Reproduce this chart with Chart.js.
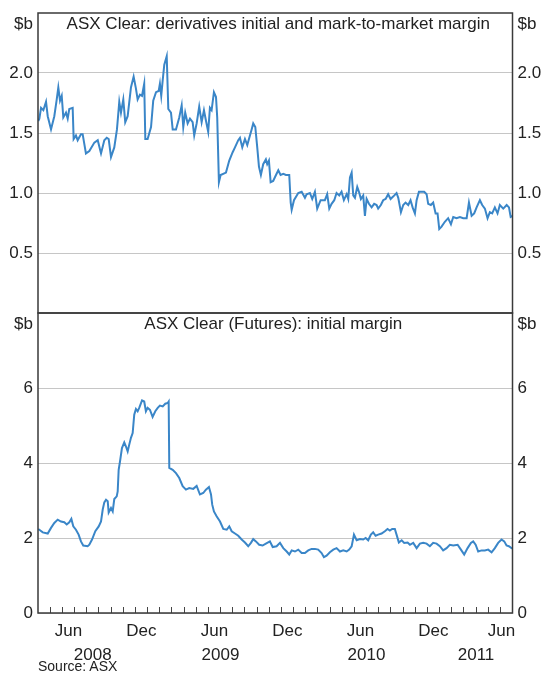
<!DOCTYPE html>
<html>
<head>
<meta charset="utf-8">
<script src="https://cdn.jsdelivr.net/npm/chart.js@4.4.0/dist/chart.umd.min.js"></script>
<style>
body{margin:0;background:#fff;width:544px;height:674px;overflow:hidden;position:relative;font-family:"Liberation Sans",Arial,sans-serif}
canvas{position:absolute;left:0}
#top{top:0}
#bottom{top:300px}
#source{position:absolute;left:38px;top:658px;font-size:14px;color:#222}
</style>
</head>
<body>
<canvas id="top" width="544" height="314"></canvas>
<canvas id="bottom" width="544" height="374"></canvas>
<div id="source">Source: ASX</div>
<script>
// x values are months since 1 Jan 2008 (3 = start of April 2008)
const xStart = 3, xEnd = 42;

const derivMonths = [3.02,3.11,3.25,3.44,3.66,3.80,4.07,4.34,4.54,4.67,4.81,4.95,5.08,5.30,5.44,5.57,5.85,5.93,6.12,6.26,
6.53,6.67,6.94,7.22,7.63,7.91,8.18,8.45,8.65,8.81,9.00,9.27,9.49,9.68,9.82,10.01,10.17,10.37,10.64,10.86,
11.05,11.19,11.38,11.55,11.73,11.82,12.01,12.29,12.47,12.70,12.92,13.02,13.13,13.25,13.38,13.58,13.71,13.93,14.07,14.34,
14.61,14.81,14.94,15.10,15.30,15.49,15.71,15.84,16.04,16.25,16.45,16.64,16.81,16.99,17.13,17.27,17.46,17.63,17.73,17.87,
18.01,18.45,18.72,19.00,19.19,19.46,19.60,19.79,20.01,20.20,20.42,20.56,20.69,20.86,21.02,21.16,21.32,21.51,21.73,21.84,
21.98,22.12,22.33,22.56,22.75,22.94,23.16,23.38,23.65,23.77,23.85,24.04,24.39,24.67,24.94,25.08,25.35,25.54,25.76,25.95,
26.23,26.58,26.77,26.94,27.13,27.35,27.54,27.76,27.95,28.14,28.37,28.50,28.64,28.78,28.91,29.05,29.24,29.38,29.54,29.73,
29.87,30.01,30.20,30.42,30.63,30.83,30.96,31.18,31.37,31.57,31.78,31.98,32.19,32.47,32.61,32.83,33.02,33.21,33.43,33.62,
33.79,33.98,34.12,34.31,34.53,34.74,34.94,35.07,35.29,35.48,35.68,35.84,35.98,36.17,36.44,36.71,36.94,37.13,37.40,37.68,
37.95,38.23,38.42,38.64,38.85,39.05,39.32,39.51,39.73,39.95,40.14,40.33,40.55,40.77,40.96,41.24,41.52,41.71,41.85,42.01];
const derivValues = [1.60,1.62,1.71,1.69,1.76,1.64,1.53,1.64,1.78,1.88,1.77,1.81,1.63,1.67,1.62,1.70,1.71,1.45,1.48,1.44,
1.49,1.49,1.33,1.35,1.42,1.44,1.33,1.44,1.46,1.45,1.30,1.38,1.53,1.76,1.67,1.78,1.59,1.64,1.88,1.97,
1.87,1.78,1.82,1.81,1.91,1.45,1.45,1.55,1.77,1.84,1.85,1.91,1.81,1.94,2.07,2.14,1.70,1.67,1.53,1.53,
1.63,1.73,1.55,1.67,1.58,1.62,1.59,1.48,1.58,1.72,1.59,1.69,1.60,1.51,1.71,1.69,1.84,1.80,1.63,1.09,
1.15,1.17,1.27,1.34,1.38,1.44,1.46,1.38,1.45,1.40,1.48,1.53,1.58,1.55,1.38,1.22,1.15,1.24,1.28,1.24,
1.27,1.09,1.10,1.15,1.19,1.15,1.16,1.15,1.15,0.92,0.86,0.94,1.00,1.01,0.96,0.99,1.00,0.95,1.01,0.87,
0.94,0.94,0.99,0.87,0.91,0.94,1.00,0.98,1.01,0.94,0.99,0.95,1.13,1.17,0.98,0.96,1.05,1.01,0.95,0.98,
0.81,0.95,0.91,0.88,0.91,0.90,0.87,0.90,0.94,0.95,0.99,0.95,0.97,1.00,0.96,0.84,0.90,0.92,0.90,0.94,
0.88,0.83,0.94,1.01,1.01,1.01,0.99,0.91,0.90,0.92,0.83,0.83,0.70,0.72,0.76,0.79,0.74,0.80,0.79,0.80,
0.79,0.79,0.92,0.81,0.83,0.88,0.94,0.90,0.87,0.79,0.84,0.83,0.88,0.83,0.90,0.87,0.90,0.88,0.80,0.81];

const futMonths = [3.02,3.11,3.39,3.80,4.07,4.34,4.62,4.89,5.16,5.36,5.57,5.74,5.90,6.12,6.34,6.53,6.72,7.08,7.22,7.44,
7.71,7.99,8.18,8.32,8.45,8.59,8.73,8.81,9.00,9.14,9.27,9.47,9.55,9.63,9.74,9.90,10.09,10.23,10.37,10.50,
10.64,10.78,10.91,11.05,11.19,11.32,11.55,11.73,11.87,12.01,12.20,12.42,12.64,12.84,13.02,13.25,13.46,13.66,13.74,13.79,
14.07,14.34,14.61,14.89,15.16,15.43,15.76,16.04,16.31,16.58,16.80,17.05,17.22,17.32,17.46,17.68,17.96,18.23,18.51,18.72,
18.92,19.19,19.46,19.74,20.01,20.28,20.50,20.69,20.91,21.18,21.46,21.73,22.06,22.29,22.61,22.89,23.16,23.44,23.65,23.85,
24.12,24.39,24.67,24.94,25.21,25.49,25.76,26.03,26.31,26.50,26.72,26.99,27.27,27.54,27.82,28.09,28.37,28.58,28.78,28.97,
29.19,29.46,29.73,29.93,30.14,30.36,30.55,30.75,30.96,31.24,31.51,31.73,31.92,32.11,32.33,32.47,32.66,32.89,33.10,33.38,
33.57,33.84,34.12,34.39,34.66,34.94,35.21,35.48,35.76,36.03,36.30,36.58,36.85,37.13,37.49,37.76,38.03,38.31,38.58,38.77,
38.97,39.18,39.46,39.73,40.00,40.28,40.55,40.82,41.10,41.32,41.51,41.70,41.92,42.01];
const futValues = [2.24,2.22,2.15,2.12,2.27,2.40,2.49,2.44,2.42,2.36,2.42,2.51,2.31,2.22,2.09,1.91,1.80,1.78,1.82,1.96,
2.18,2.31,2.44,2.76,2.95,3.02,2.98,2.68,2.80,2.71,3.04,3.11,3.24,3.82,4.04,4.40,4.55,4.44,4.31,4.49,
4.67,4.80,5.29,5.44,5.38,5.47,5.67,5.64,5.38,5.47,5.42,5.23,5.38,5.47,5.53,5.51,5.58,5.60,5.64,3.87,
3.82,3.73,3.60,3.38,3.29,3.33,3.31,3.39,3.16,3.20,3.29,3.36,3.16,2.89,2.71,2.58,2.44,2.24,2.22,2.31,
2.18,2.12,2.06,1.96,1.88,1.78,1.87,1.97,1.91,1.82,1.80,1.85,1.91,1.76,1.78,1.87,1.73,1.64,1.56,1.67,
1.64,1.69,1.60,1.60,1.67,1.71,1.71,1.69,1.60,1.49,1.53,1.62,1.69,1.73,1.64,1.67,1.64,1.69,1.78,2.09,
1.94,1.97,1.96,2.00,1.94,2.09,2.15,2.06,2.09,2.12,2.18,2.24,2.20,2.24,2.24,2.09,1.88,1.94,1.87,1.88,
1.82,1.87,1.73,1.85,1.87,1.85,1.78,1.87,1.85,1.78,1.67,1.73,1.82,1.80,1.82,1.69,1.56,1.73,1.87,1.91,
1.82,1.64,1.67,1.67,1.69,1.62,1.73,1.87,1.96,1.91,1.80,1.78,1.73,1.72];

const derivTicks = [0.5, 1.0, 1.5, 2.0];
const futTicks = [0, 2, 4, 6];
const monthLabels = ['Jun','Dec','Jun','Dec','Jun','Dec','Jun'];
const monthLabelAt = [5.5, 11.5, 17.5, 23.5, 29.5, 35.5, 41.1];
const years = [2008, 2009, 2010, 2011];

const lineColor = '#3a86c8';
Chart.defaults.font.family = '"Liberation Sans", Arial, sans-serif';
Chart.defaults.font.size = 17;
Chart.defaults.color = '#222';

// frame round the plot, "$b" units and the panel title
const framePlugin = {
    id: 'frame',
    afterDatasetsDraw(chart, args, opts) {
        const ctx = chart.ctx;
        const a = chart.chartArea;
        ctx.save();
        ctx.strokeStyle = '#3a3a3a';
        ctx.lineWidth = 1.5;
        ctx.strokeRect(a.left, a.top, a.right - a.left, a.bottom - a.top);
        ctx.fillStyle = '#222';
        ctx.font = '17px "Liberation Sans", Arial, sans-serif';
        ctx.textBaseline = 'middle';
        const y = a.top + 11;
        ctx.textAlign = 'right';
        ctx.fillText('$b', a.left - 5, y);
        ctx.textAlign = 'left';
        ctx.fillText('$b', a.right + 5, y);
        ctx.textAlign = 'center';
        ctx.fillText(opts.title, (a.left + a.right) / 2 + opts.shift, y);
        ctx.restore();
    }
};

function yAxis(pos, max, ticks, fmt, showGrid, width) {
    return {
        type: 'linear',
        position: pos,
        min: 0,
        max: max,
        afterBuildTicks: axis => { axis.ticks = ticks.map(v => ({ value: v })); },
        afterFit: axis => {
            axis.width = width;
            axis.paddingTop = 0;
            axis.paddingBottom = 0;
        },
        ticks: { callback: v => fmt(v), padding: 5 },
        grid: { display: showGrid, color: '#c6c6c6', lineWidth: 1, drawTicks: false },
        border: { display: false }
    };
}

function lineData(months, values) {
    return {
        datasets: [{
            data: months.map((m, i) => ({ x: m, y: values[i] })),
            borderColor: lineColor,
            borderWidth: 2,
            pointRadius: 0,
            tension: 0
        }]
    };
}

new Chart(document.getElementById('top'), {
    type: 'line',
    data: lineData(derivMonths, derivValues),
    options: {
        responsive: false,
        animation: false,
        devicePixelRatio: 1,
        layout: { padding: { top: 13, bottom: 1, left: 0, right: 0 } },
        plugins: {
            legend: { display: false },
            tooltip: { enabled: false },
            frame: { title: 'ASX Clear: derivatives initial and mark-to-market margin', shift: 3 }
        },
        scales: {
            x: { type: 'linear', min: xStart, max: xEnd, display: false },
            y: yAxis('left', 2.5, derivTicks, v => v.toFixed(1), true, 38),
            yR: yAxis('right', 2.5, derivTicks, v => v.toFixed(1), false, 31.5)
        }
    },
    plugins: [framePlugin]
});

new Chart(document.getElementById('bottom'), {
    type: 'line',
    data: lineData(futMonths, futValues),
    options: {
        responsive: false,
        animation: false,
        devicePixelRatio: 1,
        layout: { padding: { top: 13, bottom: 13, left: 0, right: 0 } },
        plugins: {
            legend: { display: false },
            tooltip: { enabled: false },
            frame: { title: 'ASX Clear (Futures): initial margin', shift: -2 }
        },
        scales: {
            x: {
                type: 'linear',
                position: 'bottom',
                weight: 0,
                min: xStart,
                max: xEnd,
                afterBuildTicks: axis => {
                    const t = [];
                    for (let m = xStart + 1; m < xEnd; m++) t.push({ value: m });
                    monthLabelAt.forEach(v => t.push({ value: v }));
                    axis.ticks = t.sort((p, q) => p.value - q.value);
                },
                afterFit: axis => { axis.height = 24; },
                ticks: {
                    autoSkip: false,
                    maxRotation: 0,
                    padding: 14,
                    callback: v => {
                        const i = monthLabelAt.indexOf(v);
                        return i < 0 ? '' : monthLabels[i];
                    }
                },
                grid: {
                    drawOnChartArea: false,
                    tickLength: -6,
                    tickWidth: 1,
                    tickColor: c => (c.tick && Number.isInteger(c.tick.value)) ? '#444' : 'rgba(0,0,0,0)'
                },
                border: { display: false }
            },
            x2: {
                type: 'linear',
                position: 'bottom',
                weight: 1,
                min: xStart,
                max: xEnd,
                afterBuildTicks: axis => {
                    axis.ticks = years.map(y => {
                        const s = Math.max((y - 2008) * 12, xStart);
                        const e = Math.min((y - 2007) * 12, xEnd);
                        return { value: (s + e) / 2 };
                    });
                },
                afterFit: axis => { axis.height = 24; },
                ticks: { autoSkip: false, maxRotation: 0, padding: 8, callback: (v, i) => String(years[i]) },
                grid: { display: false, drawTicks: false },
                border: { display: false }
            },
            y: yAxis('left', 8, futTicks, v => String(v), true, 38),
            yR: yAxis('right', 8, futTicks, v => String(v), false, 31.5)
        }
    },
    plugins: [framePlugin]
});
</script>
</body>
</html>
